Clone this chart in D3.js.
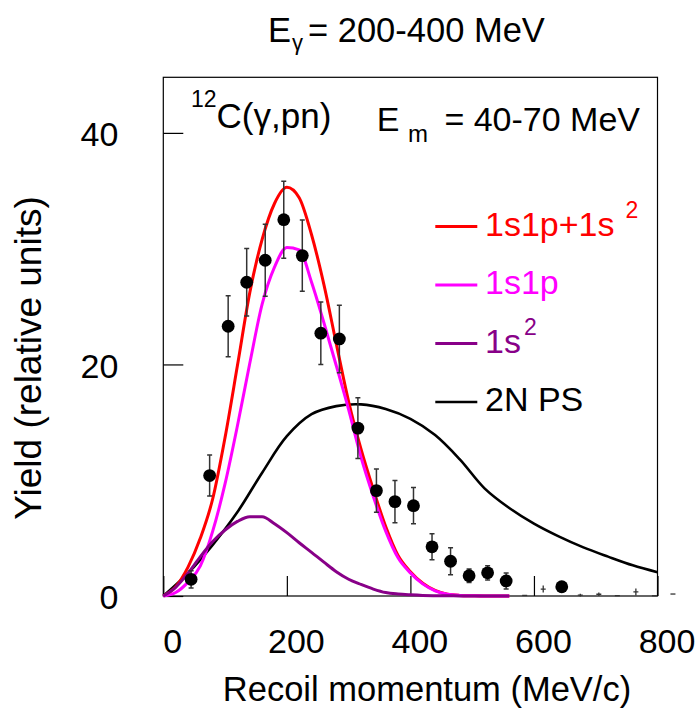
<!DOCTYPE html>
<html>
<head>
<meta charset="utf-8">
<script src="https://cdn.jsdelivr.net/npm/d3@7"></script>
<style>
  body { margin: 0; background: #fff; }
  svg text { font-family: "Liberation Sans", Arial, Helvetica, sans-serif; fill: #000; }
</style>
</head>
<body>
<svg id="chart" width="698" height="711"></svg>
<script>
// measured points (recoil momentum in MeV/c, yield, error)
const ptMom   = [45, 75, 105, 135, 165, 195, 225, 255, 285, 315, 345, 375, 405, 435, 465, 495, 525, 555, 645];
const ptYield = [1.44, 10.4, 23.3, 27.1, 29.0, 32.5, 29.4, 22.7, 22.2, 14.5, 9.1, 8.15, 7.8, 4.25, 3.0, 1.75, 2.0, 1.3, 0.8];
const ptErr   = [0.75, 1.77, 2.63, 2.92, 3.1, 3.33, 3.08, 2.7, 2.92, 2.63, 1.86, 1.83, 1.57, 1.12, 1.17, 0.58, 0.62, 0.69, 0.4];

// low-statistics bins, drawn without a marker
const lowMom   = [585, 615, 675, 705, 735, 765, 795, 825];
const lowYield = [0.05, 0.6, 0.08, 0.15, 0.03, 0.35, 0.02, 0.17];
const lowErr   = [0, 0.3, 0.12, 0.15, 0, 0.3, 0, 0];

// calculations
const calcMom = [0, 20, 40, 60, 80, 100, 120, 140, 160, 180, 200, 220, 240, 260, 280,
                 300, 320, 340, 360, 380, 400, 420, 440, 460, 480, 500, 520, 540, 560];
const sum1s1p1s2 = [0, 0.8, 2.5, 5.0, 8.4, 13.7, 19.9, 26.2, 30.8, 33.9, 35.3, 34.4, 31.2, 26.9, 21.8,
                    16.8, 12.7, 9.2, 6.0, 3.5, 2.1, 1.1, 0.48, 0.15, 0.05, 0.02, 0, 0, 0];
const only1s1p   = [0, 0.3, 1.2, 2.6, 5.6, 9.7, 14.7, 20.1, 25.2, 28.4, 30.1, 29.9, 27.1, 23.6, 19.9,
                    16.1, 12.0, 8.6, 5.6, 3.3, 2.0, 1.05, 0.45, 0.15, 0.05, 0.02, 0, 0, 0];
const only1s2    = [0, 0.75, 1.97, 3.4, 4.7, 5.7, 6.44, 6.85, 6.85, 6.24, 5.47, 4.6, 3.77, 2.92, 2.1,
                    1.45, 1.0, 0.6, 0.3, 0.17, 0.1, 0.05, 0.03, 0.02, 0.01, 0, 0, 0, 0];

const psMom   = [0, 40, 80, 120, 160, 200, 240, 280, 320, 360, 400, 440, 480, 520, 560, 600, 640, 680, 720, 760, 800];
const psYield = [0, 1.97, 4.42, 7.25, 10.65, 13.8, 15.7, 16.4, 16.55, 16.15, 15.3, 13.9, 11.8, 9.3, 7.6,
                 6.25, 5.15, 4.2, 3.4, 2.65, 2.05];

const xMajor = [0, 200, 400, 600, 800];
const yMajor = [0, 20, 40];

const FONT = 34;

const svg = d3.select("#chart");

const x = d3.scaleLinear().domain([0, 800]).range([163.3, 657.5]);
const y = d3.scaleLinear().domain([0, 44.8]).range([596, 77.3]);

// frame
svg.append("rect")
    .attr("x", x(0)).attr("y", y(44.8))
    .attr("width", x(800) - x(0)).attr("height", y(0) - y(44.8))
    .attr("fill", "none").attr("stroke", "#000").attr("stroke-width", 1.2);

// x axis: minor ticks, then major ticks with labels
const gx = svg.append("g").attr("transform", `translate(0,${y(0)})`);
gx.call(d3.axisBottom(x).tickValues(d3.range(0, 801, 50)).tickSize(-10).tickFormat(""));
gx.call(d3.axisBottom(x).tickValues(xMajor).tickSize(-20).tickPadding(33));
gx.selectAll(".domain").remove();
gx.selectAll("line").attr("stroke", "#000").attr("stroke-width", 1.2);
gx.selectAll("text").attr("font-size", FONT).attr("dx", 9);

// y axis
const gy = svg.append("g").attr("transform", `translate(${x(0)},0)`);
gy.call(d3.axisLeft(y).tickValues(d3.range(0, 41, 5)).tickSize(-10).tickFormat(""));
gy.call(d3.axisLeft(y).tickValues(yMajor).tickSize(-20).tickPadding(45));
gy.selectAll(".domain").remove();
gy.selectAll("line").attr("stroke", "#000").attr("stroke-width", 1.2);
gy.selectAll("text").attr("font-size", FONT).attr("dy", "0.38em");

// axis titles
svg.append("text")
    .attr("x", 427).attr("y", 701)
    .attr("text-anchor", "middle")
    .attr("font-size", 34.5)
    .text("Recoil momentum (MeV/c)");

svg.append("text")
    .attr("transform", "translate(41,358) rotate(-90)")
    .attr("text-anchor", "middle")
    .attr("font-size", 37)
    .text("Yield (relative units)");

// curves
const line = (xs, ys, curve) => d3.line()
    .x((d, i) => x(xs[i]))
    .y(d => y(d))
    .curve(curve)(ys);

const curves = [
    { xs: psMom, ys: psYield, color: "#000000", width: 2.6, curve: d3.curveCatmullRom.alpha(0.5) },
    { xs: calcMom, ys: sum1s1p1s2, color: "#ff0000", width: 3, curve: d3.curveMonotoneX },
    { xs: calcMom, ys: only1s1p, color: "#ff00ff", width: 3, curve: d3.curveMonotoneX },
    { xs: calcMom, ys: only1s2, color: "#880088", width: 3, curve: d3.curveMonotoneX }
];

svg.append("g").selectAll("path")
    .data(curves)
    .join("path")
    .attr("d", d => line(d.xs, d.ys, d.curve))
    .attr("fill", "none")
    .attr("stroke", d => d.color)
    .attr("stroke-width", d => d.width)
    .attr("stroke-linejoin", "round");

// data points with error bars
const pts = ptMom.map((m, i) => ({ m: m, v: ptYield[i], e: ptErr[i] }));
const gp = svg.append("g");
gp.selectAll("line.bar")
    .data(pts)
    .join("line")
    .attr("class", "bar")
    .attr("x1", d => x(d.m)).attr("x2", d => x(d.m))
    .attr("y1", d => y(d.v + d.e)).attr("y2", d => y(d.v - d.e))
    .attr("stroke", "#333").attr("stroke-width", 1.5);
gp.selectAll("path.cap")
    .data(pts)
    .join("path")
    .attr("class", "cap")
    .attr("d", d => `M${x(d.m) - 2.5},${y(d.v + d.e)}h5M${x(d.m) - 2.5},${y(d.v - d.e)}h5`)
    .attr("stroke", "#333").attr("stroke-width", 1.5);
gp.selectAll("circle")
    .data(pts)
    .join("circle")
    .attr("cx", d => x(d.m)).attr("cy", d => y(d.v))
    .attr("r", 6.4)
    .attr("fill", "#000");

// low-statistics bins
const low = lowMom.map((m, i) => ({ m: m, v: lowYield[i], e: lowErr[i] }));
gp.selectAll("path.low")
    .data(low)
    .join("path")
    .attr("class", "low")
    .attr("d", d => `M${x(d.m) - 2.5},${y(d.v)}h5` +
        (d.e > 0 ? `M${x(d.m)},${y(d.v + d.e)}V${y(d.v - d.e)}` : ""))
    .attr("stroke", "#333").attr("stroke-width", 1.3);

// legend
const legendItems = [
    { label: "1s1p+1s", sup: "2", color: "#ff0000", supGap: 11 },
    { label: "1s1p", sup: null, color: "#ff00ff" },
    { label: "1s", sup: "2", color: "#880088", supGap: 3 },
    { label: "2N PS", sup: null, color: "#000000" }
];
const legendY = [226.5, 285, 343.5, 402];
const lg = svg.append("g");
legendItems.forEach((d, i) => {
    const ly = legendY[i];
    lg.append("line")
        .attr("x1", 435.3).attr("x2", 477.3)
        .attr("y1", ly).attr("y2", ly)
        .attr("stroke", d.color).attr("stroke-width", d.color === "#000000" ? 2.6 : 3);
    const t = lg.append("text")
        .attr("x", 485).attr("y", ly + 9)
        .attr("font-size", FONT)
        .style("fill", d.color);
    t.append("tspan").text(d.label);
    if (d.sup) {
        t.append("tspan")
            .attr("dx", d.supGap).attr("dy", -18)
            .attr("font-size", 23)
            .text(d.sup);
    }
});

// annotations
const ann = svg.append("text").attr("x", 191).attr("y", 128.3).attr("font-size", 35);
ann.append("tspan").attr("font-size", 23).attr("dy", -21.6).text("12");
ann.append("tspan").attr("dy", 21.6).text("C(\u03b3,pn)");

svg.append("text").attr("x", 376.7).attr("y", 131).attr("font-size", FONT).text("E");
svg.append("text").attr("x", 408).attr("y", 141.7).attr("font-size", 24).text("m");
svg.append("text").attr("x", 640).attr("y", 131).attr("text-anchor", "end")
    .attr("font-size", FONT).text("= 40-70 MeV");

// title
const title = svg.append("text").attr("x", 268).attr("y", 42).attr("font-size", 34.5);
title.append("tspan").text("E");
title.append("tspan").attr("dx", 1).attr("dy", 8).attr("font-size", 22).text("\u03b3");
title.append("tspan").attr("dx", 5).attr("dy", -8).text("= 200-400 MeV");
</script>
</body>
</html>
